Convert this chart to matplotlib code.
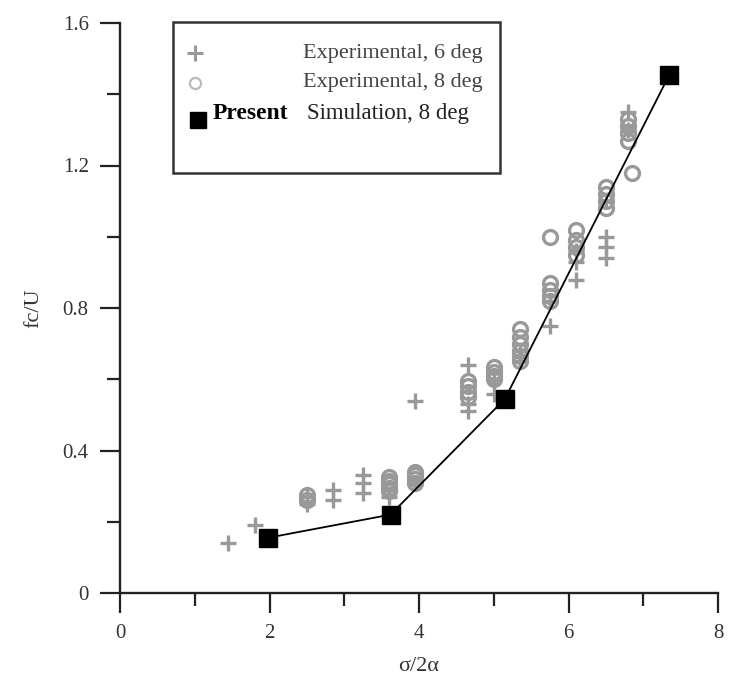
import matplotlib
matplotlib.use('Agg')
import matplotlib.pyplot as plt
from matplotlib.patches import Rectangle

# =====================
# DATOS
# =====================

# Experimental, 6 deg (cruces)
exp6_x = [1.45, 1.8, 2.5, 2.5, 2.85, 2.85, 3.25, 3.25, 3.25, 3.6, 3.95, 3.95,
          4.65, 4.65, 4.65, 5.0, 5.0, 5.35, 5.35, 5.75, 5.75, 6.1, 6.1, 6.1,
          6.5, 6.5, 6.5, 6.5, 6.8, 6.8]
exp6_y = [0.14, 0.19, 0.27, 0.25, 0.29, 0.26, 0.33, 0.31, 0.28, 0.27, 0.54, 0.31,
          0.64, 0.53, 0.51, 0.60, 0.56, 0.65, 0.68, 0.75, 0.82, 0.88, 0.93, 0.96,
          1.00, 0.97, 0.94, 1.10, 1.35, 1.30]

# Experimental, 8 deg (circulos)
exp8_x = [2.5, 2.5, 3.6, 3.6, 3.6, 3.6, 3.6, 3.95, 3.95, 3.95, 3.95,
          4.65, 4.65, 4.65, 4.65, 5.0, 5.0, 5.0, 5.0,
          5.35, 5.35, 5.35, 5.35, 5.35, 5.35, 5.75, 5.75, 5.75, 5.75, 5.75,
          6.1, 6.1, 6.1, 6.1, 6.5, 6.5, 6.5, 6.5, 6.8, 6.8, 6.8, 6.8, 6.85]
exp8_y = [0.26, 0.275, 0.285, 0.295, 0.305, 0.315, 0.325, 0.31, 0.32, 0.33, 0.34,
          0.55, 0.565, 0.58, 0.595, 0.60, 0.61, 0.62, 0.635,
          0.65, 0.665, 0.68, 0.70, 0.72, 0.74, 0.82, 0.835, 0.85, 0.87, 1.00,
          0.95, 0.97, 0.99, 1.02, 1.08, 1.10, 1.12, 1.14, 1.27, 1.29, 1.31, 1.33, 1.18]

# Simulacion actual, 8 deg
sim_x = [1.98, 3.62, 5.15, 7.35]
sim_y = [0.155, 0.22, 0.545, 1.455]

x_ticks = [0, 2, 4, 6, 8]
y_ticks = [0, 0.4, 0.8, 1.2, 1.6]
y_labels = ['0', '0.4', '0.8', '1.2', '1.6']

GRAY = '#999999'
SERIF = ['Liberation Serif', 'DejaVu Serif']

# =====================
# FIGURA
# =====================

plt.rcParams['font.family'] = SERIF

fig = plt.figure(figsize=(7.32, 6.86), dpi=100)
ax = fig.add_axes([120/732, 1 - 593/686, 598/732, 570/686])

ax.plot(exp6_x, exp6_y, linestyle='none', marker='+', markersize=12,
        markeredgewidth=2.4, color=GRAY, zorder=2)
ax.plot(exp8_x, exp8_y, linestyle='none', marker='o', markersize=10,
        markerfacecolor='none', markeredgewidth=2.4, markeredgecolor=GRAY, zorder=2)
ax.plot(sim_x, sim_y, color='black', linewidth=1.3, marker='s', markersize=13,
        markerfacecolor='black', zorder=3)

ax.set_xlim(0, 8)
ax.set_ylim(0, 1.6)
ax.set_xticks(x_ticks, [str(v) for v in x_ticks])
ax.set_xticks([1, 3, 5, 7], minor=True)
ax.set_yticks(y_ticks, y_labels)
ax.set_yticks([0.2, 0.6, 1.0, 1.4], minor=True)

for side in ['top', 'right']:
    ax.spines[side].set_visible(False)
for side in ['left', 'bottom']:
    ax.spines[side].set_linewidth(1.7)
    ax.spines[side].set_color('#222222')

ax.tick_params(which='major', direction='out', length=14.5, width=1.6,
               color='#222222', labelsize=15, pad=8, labelcolor='#333333')
ax.tick_params(which='minor', direction='out', length=9.5, width=1.6,
               color='#222222')

ax.set_xlabel('σ/2α', fontsize=16, color='#333333', labelpad=10)
ax.set_ylabel('fc/U', fontsize=16, color='#333333', labelpad=14)

# =====================
# LEYENDA (manual)
# =====================

ax.add_patch(Rectangle((0.0886, 0.737), 0.547, 0.265, transform=ax.transAxes,
                       facecolor='white', edgecolor='#333333', linewidth=1.8,
                       zorder=5, clip_on=False))

ax.plot([0.125], [0.947], transform=ax.transAxes, marker='+', markersize=12,
        markeredgewidth=2.2, color=GRAY, zorder=6, clip_on=False)
ax.plot([0.125], [0.895], transform=ax.transAxes, marker='o', markersize=8,
        markerfacecolor='none', markeredgewidth=1.6, markeredgecolor='#bbbbbb',
        zorder=6, clip_on=False)
ax.plot([0.130], [0.830], transform=ax.transAxes, marker='s', markersize=11,
        color='black', zorder=6, clip_on=False)

ax.text(0.607, 0.947, 'Experimental, 6 deg', transform=ax.transAxes,
        ha='right', va='center', fontsize=16, color='#444444', zorder=6)
ax.text(0.607, 0.895, 'Experimental, 8 deg', transform=ax.transAxes,
        ha='right', va='center', fontsize=16, color='#444444', zorder=6)
ax.text(0.1555, 0.842, 'Present', transform=ax.transAxes, ha='left',
        va='center', fontsize=17, fontweight='bold', color='black', zorder=6)
ax.text(0.3127, 0.842, 'Simulation, 8 deg', transform=ax.transAxes, ha='left',
        va='center', fontsize=16.5, color='#222222', zorder=6)

fig.savefig('out.png', dpi=100)
